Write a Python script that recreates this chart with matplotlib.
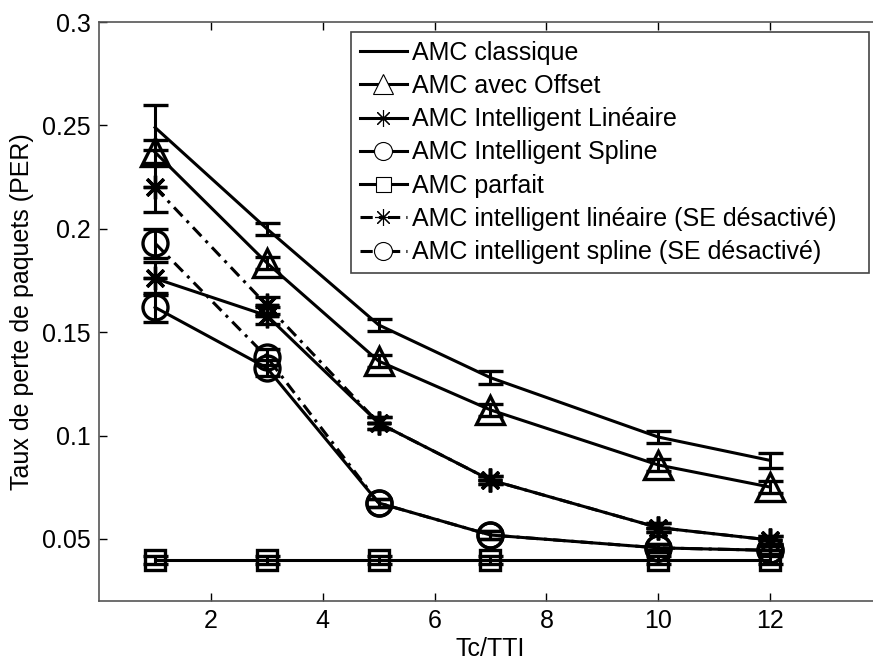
import numpy as np
import matplotlib
matplotlib.use('Agg')
import matplotlib.pyplot as plt
from matplotlib.lines import Line2D

plt.rcParams['font.family'] = ['Liberation Sans', 'DejaVu Sans']

# Tc/TTI values where the PER was measured
tc_tti = [1, 3, 5, 7, 10, 12]

# mean packet error rate for each AMC scheme
per_classique = [0.249, 0.200, 0.1535, 0.128, 0.0993, 0.088]
per_offset = [0.237, 0.1835, 0.136, 0.1124, 0.0858, 0.0751]
per_lin = [0.176, 0.158, 0.106, 0.0785, 0.0555, 0.0495]
per_spline = [0.162, 0.1327, 0.0674, 0.0519, 0.0457, 0.0445]
per_parfait = [0.040, 0.040, 0.040, 0.040, 0.040, 0.040]
per_lin_se = [0.220, 0.163, 0.106, 0.0785, 0.0555, 0.0495]
per_spline_se = [0.193, 0.138, 0.0674, 0.0519, 0.0457, 0.0445]

# confidence half-widths
err_classique = [0.011, 0.003, 0.003, 0.003, 0.003, 0.0037]
err_offset = [0.006, 0.003, 0.003, 0.003, 0.003, 0.003]
err_lin = [0.008, 0.004, 0.003, 0.002, 0.002, 0.002]
err_spline = [0.007, 0.004, 0.002, 0.002, 0.002, 0.002]
err_parfait = [0.002, 0.002, 0.002, 0.002, 0.002, 0.002]
err_lin_se = [0.012, 0.004, 0.003, 0.002, 0.002, 0.002]
err_spline_se = [0.007, 0.004, 0.002, 0.002, 0.002, 0.002]

labels = ['AMC classique', 'AMC avec Offset', 'AMC Intelligent Linéaire',
          'AMC Intelligent Spline', 'AMC parfait',
          'AMC intelligent linéaire (SE désactivé)',
          'AMC intelligent spline (SE désactivé)']

dashdot = (0, (4, 2, 1, 2))
star = (8, 2, 0)
# (values, errors, marker, marker size, line style)
series = [
    (per_classique, err_classique, 'None', 0, '-'),
    (per_offset, err_offset, '^', 20, '-'),
    (per_lin, err_lin, star, 17, '-'),
    (per_spline, err_spline, 'o', 18, '-'),
    (per_parfait, err_parfait, 's', 15, '-'),
    (per_lin_se, err_lin_se, star, 17, dashdot),
    (per_spline_se, err_spline_se, 'o', 18, dashdot),
]

fig = plt.figure(figsize=(8.73, 6.63), dpi=100)
ax = fig.add_axes([99.2 / 873, 62 / 663, 782.6 / 873, 579 / 663])

handles = []
for (vals, errs, mk, ms, ls), lab in zip(series, labels):
    ax.errorbar(tc_tti, vals, yerr=errs, color='black', linestyle=ls,
                linewidth=2.2, marker=mk, markersize=ms, markerfacecolor='none',
                markeredgewidth=2.4, capsize=9, capthick=2.2, elinewidth=2.2)
    # legend entries use thin marker outlines
    handles.append(Line2D([], [], color='black', linestyle=ls, linewidth=2.2,
                          marker=mk, markersize=ms * 0.72, markerfacecolor='white',
                          markeredgewidth=0.8, label=lab))

ax.set_xlim(0, 14)
ax.set_ylim(0.02, 0.3)
ax.set_xticks([2, 4, 6, 8, 10, 12])
ax.set_yticks([0.05, 0.1, 0.15, 0.2, 0.25, 0.3])
ax.set_yticklabels(['0.05', '0.1', '0.15', '0.2', '0.25', '0.3'])
ax.tick_params(direction='in', length=6, width=1, labelsize=18,
               top=True, right=True, pad=6)
for s in ax.spines.values():
    s.set_color('#555555')
    s.set_linewidth(1.2)

ax.set_xlabel('Tc/TTI', fontsize=18, labelpad=3)
ax.set_ylabel('Taux de perte de paquets (PER)', fontsize=18, labelpad=6)

leg = ax.legend(handles=handles, loc='upper left', mode='expand',
                bbox_to_anchor=(351 / 873, 1 - 268 / 663, 518 / 873, 236 / 663),
                bbox_transform=fig.transFigure, fontsize=18, frameon=True, fancybox=False,
                edgecolor='#444444', framealpha=1, borderaxespad=0, borderpad=0.35,
                labelspacing=0.37, handlelength=1.88, handletextpad=0.2)
leg.get_frame().set_linewidth(1.2)

fig.savefig('out.png', dpi=100)
